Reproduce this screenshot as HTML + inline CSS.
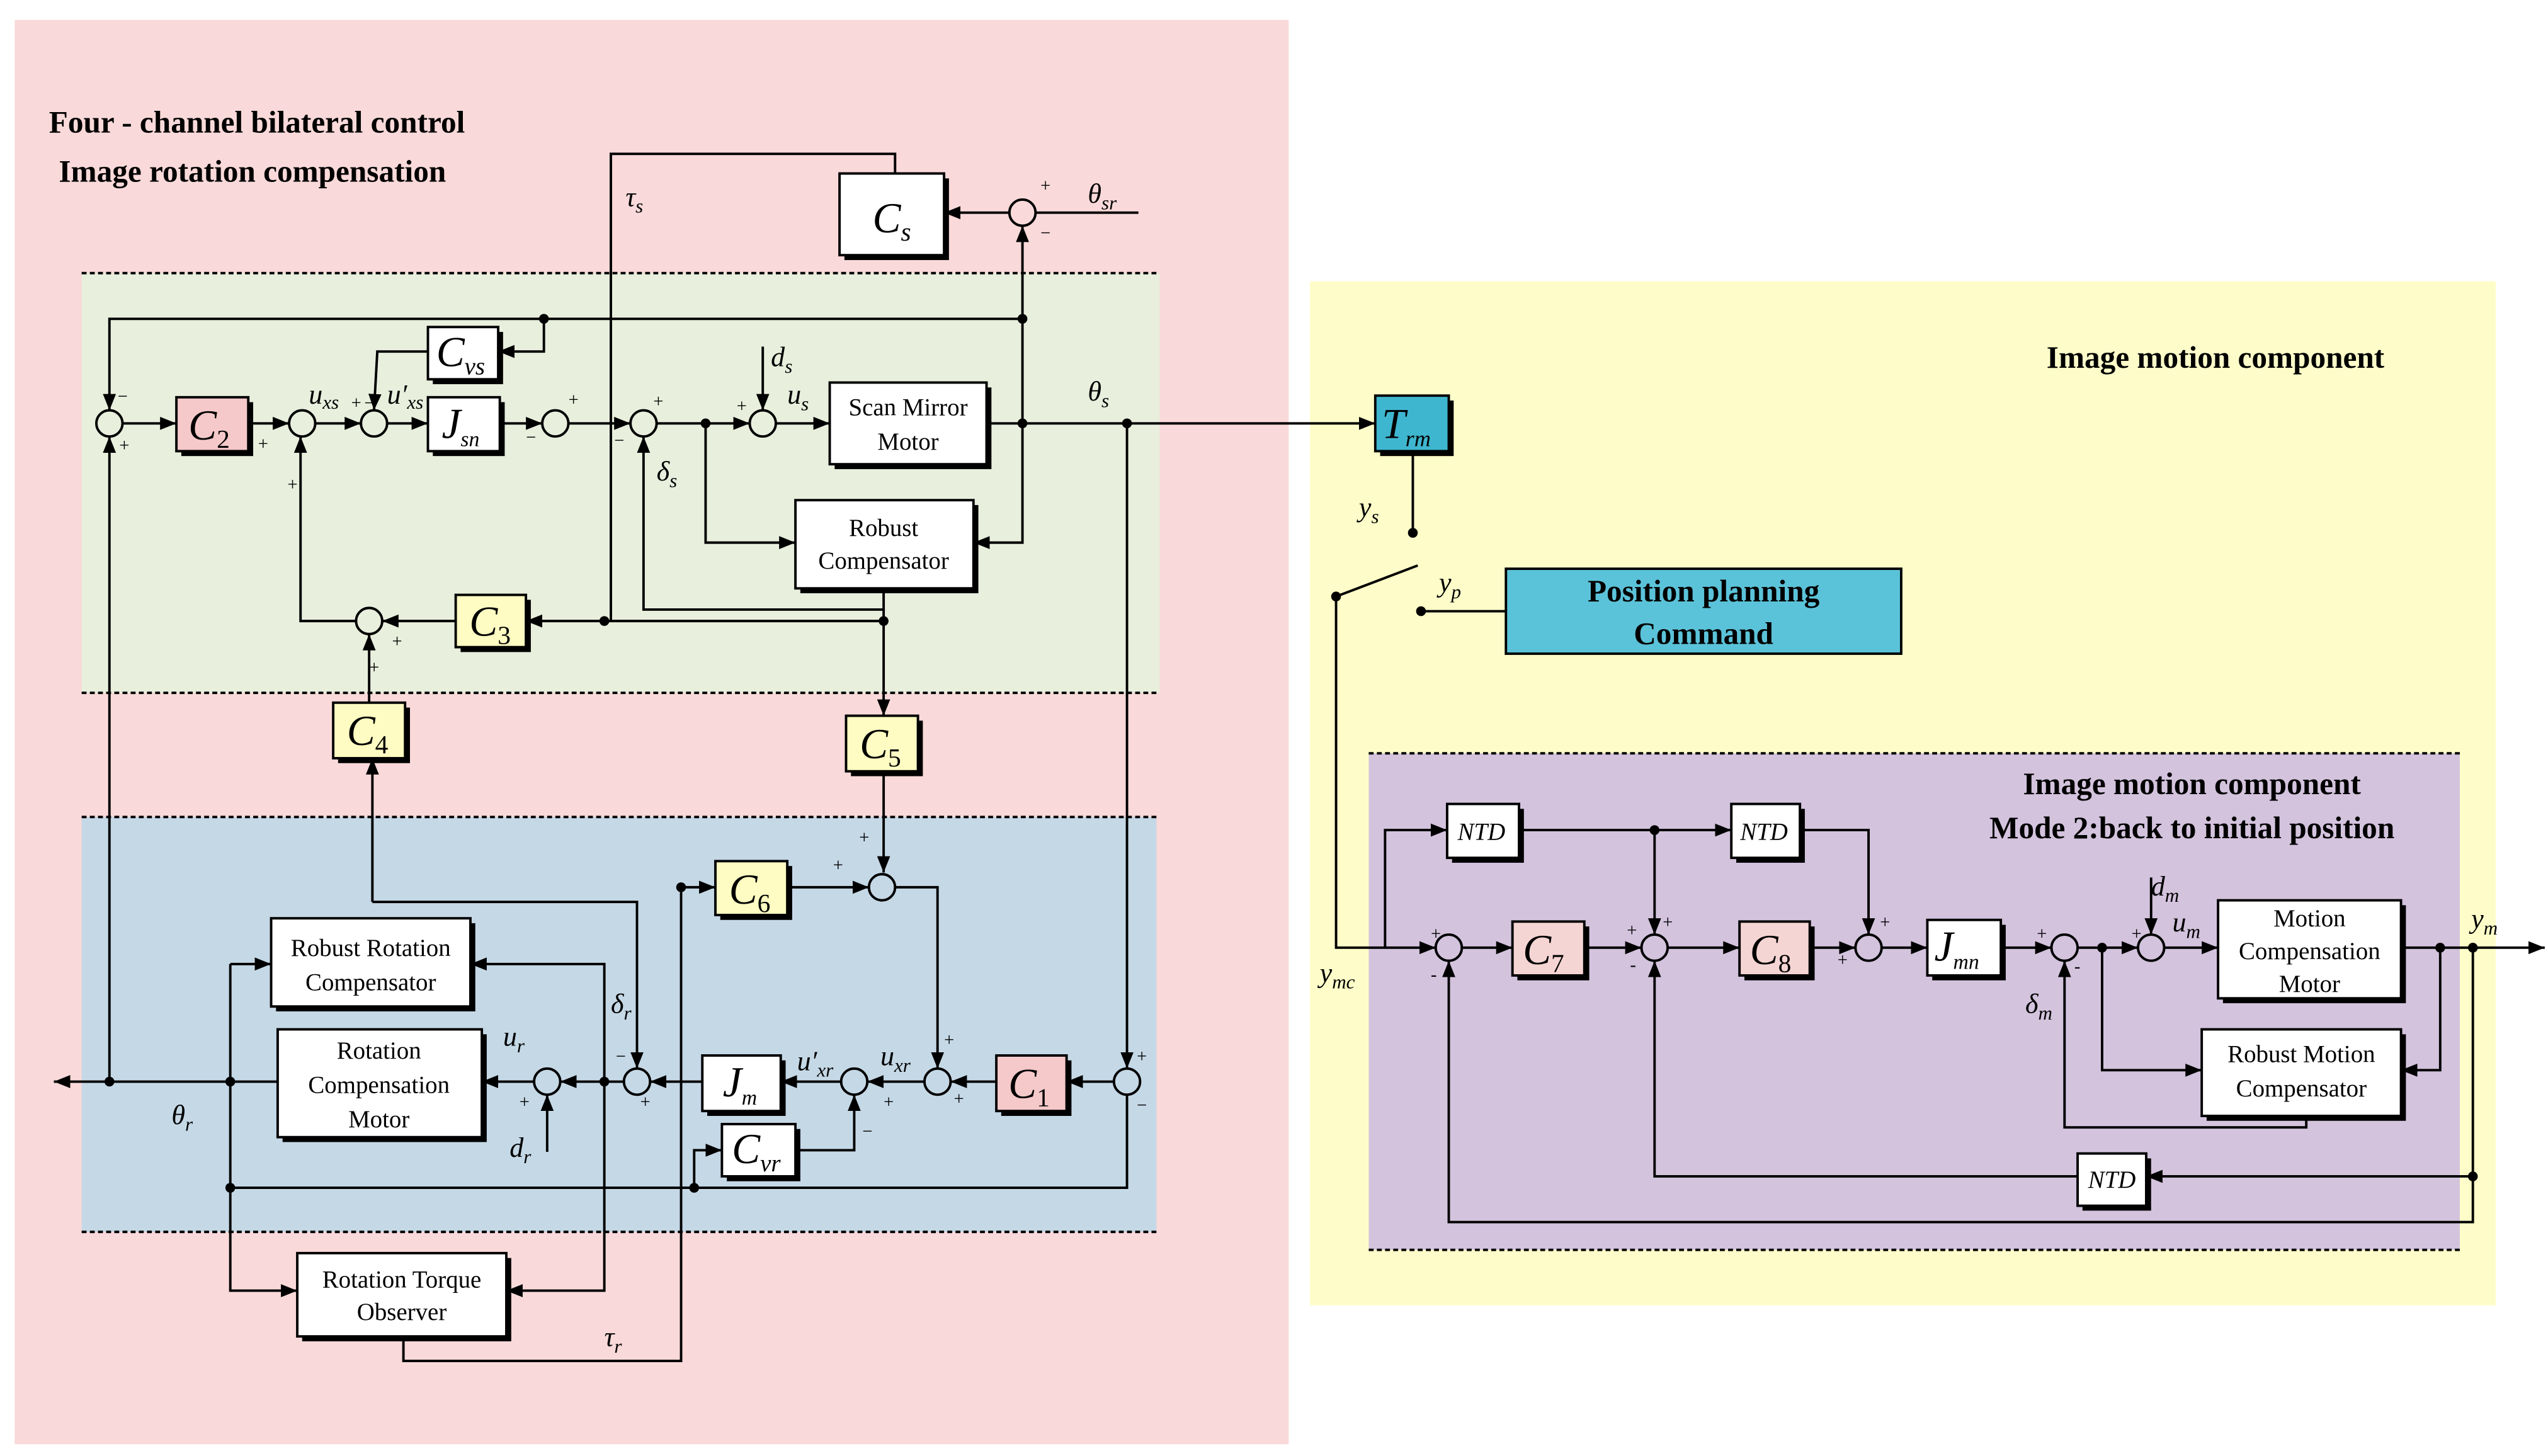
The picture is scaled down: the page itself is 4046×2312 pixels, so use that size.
<!DOCTYPE html>
<html><head><meta charset="utf-8"><style>
html,body{margin:0;padding:0;background:#fff}
svg{display:block}
text{font-family:"Liberation Serif",serif;fill:#000}
.t{font-weight:bold;font-size:19px}
.b{font-size:15px;text-anchor:middle}
.c{font-style:italic;font-size:26px;text-anchor:middle}
.l{font-style:italic;font-size:17px}
.p{font-size:11px}
</style></head><body>
<svg width="4046" height="2312" viewBox="0 0 1560 891" xmlns="http://www.w3.org/2000/svg">
<defs>
<marker id="a" viewBox="0 0 10 10" refX="10" refY="5" markerWidth="10" markerHeight="10" markerUnits="userSpaceOnUse" orient="auto"><path d="M0,1 L10,5 L0,9 z" fill="#000"/></marker>
</defs>
<rect width="1560" height="891" fill="#fff"/>
<!-- panels -->
<rect x="9" y="12" width="780" height="872" fill="#f9d9d9"/>
<rect x="50" y="167" width="660" height="257" fill="#e8efdd"/>
<rect x="50" y="500" width="658" height="254" fill="#c5d8e6"/>
<rect x="802" y="172" width="726" height="627" fill="#fefdc9"/>
<rect x="838" y="461" width="668" height="304" fill="#d3c3dd"/>
<g stroke="#000" stroke-width="1.5" stroke-dasharray="3,2" fill="none">
<line x1="50" y1="167" x2="710" y2="167"/><line x1="50" y1="424" x2="710" y2="424"/>
<line x1="50" y1="500" x2="708" y2="500"/><line x1="50" y1="754" x2="708" y2="754"/>
<line x1="838" y1="461" x2="1506" y2="461"/><line x1="838" y1="765" x2="1506" y2="765"/>
</g>
<text class="t" x="30" y="81">Four - channel bilateral control</text>
<text class="t" x="36" y="111">Image rotation compensation</text>
<text class="t" x="1253" y="225">Image motion component</text>
<text class="t" x="1342" y="486" text-anchor="middle">Image motion component</text>
<text class="t" x="1342" y="513" text-anchor="middle">Mode 2:back to initial position</text>

<!-- wires -->
<g stroke="#000" stroke-width="1.5" fill="none">
<!-- top Cs loop -->
<polyline points="697,130 634,130"/>
<polyline points="618,130 578,130" marker-end="url(#a)"/>
<polyline points="548,106 548,94 374,94 374,380"/>
<polyline points="626,259 626,138" marker-end="url(#a)"/>
<polyline points="626,195 67,195 67,251" marker-end="url(#a)"/>
<polyline points="333,195 333,215 305,215" marker-end="url(#a)"/>
<polyline points="262,215 231,215 229,251" marker-end="url(#a)"/>
<!-- main row -->
<line x1="75" y1="259" x2="108" y2="259" marker-end="url(#a)"/>
<line x1="152" y1="259" x2="177" y2="259" marker-end="url(#a)"/>
<line x1="193" y1="259" x2="221" y2="259" marker-end="url(#a)"/>
<line x1="237" y1="259" x2="262" y2="259" marker-end="url(#a)"/>
<line x1="306" y1="259" x2="332" y2="259" marker-end="url(#a)"/>
<line x1="348" y1="259" x2="386" y2="259" marker-end="url(#a)"/>
<line x1="402" y1="259" x2="459" y2="259" marker-end="url(#a)"/>
<line x1="475" y1="259" x2="508" y2="259" marker-end="url(#a)"/>
<line x1="604" y1="259" x2="842" y2="259" marker-end="url(#a)"/>
<line x1="467" y1="212" x2="467" y2="251" marker-end="url(#a)"/>
<polyline points="432,259 432,332 487,332" marker-end="url(#a)"/>
<polyline points="626,259 626,332 596,332" marker-end="url(#a)"/>
<polyline points="541,360 541,373 394,373 394,267" marker-end="url(#a)"/>
<polyline points="541,373 541,438" marker-end="url(#a)"/>
<polyline points="541,380 322,380" marker-end="url(#a)"/>
<polyline points="279,380 234,380" marker-end="url(#a)"/>
<polyline points="218,380 184,380 184,267" marker-end="url(#a)"/>
<polyline points="226,430 226,388" marker-end="url(#a)"/>
<polyline points="228,552 228,464" marker-end="url(#a)"/>
<!-- C5/C6 -->
<polyline points="541,472 541,534" marker-end="url(#a)"/>
<polyline points="417,543 438,543" marker-end="url(#a)"/>
<polyline points="482,543 532,543" marker-end="url(#a)"/>
<polyline points="548,543 574,543 574,654" marker-end="url(#a)"/>
<!-- lower row -->
<polyline points="690,259 690,654" marker-end="url(#a)"/>
<line x1="682" y1="662" x2="653" y2="662" marker-end="url(#a)"/>
<line x1="610" y1="662" x2="582" y2="662" marker-end="url(#a)"/>
<line x1="566" y1="662" x2="531" y2="662" marker-end="url(#a)"/>
<line x1="515" y1="662" x2="478" y2="662" marker-end="url(#a)"/>
<line x1="430" y1="662" x2="398" y2="662" marker-end="url(#a)"/>
<line x1="382" y1="662" x2="343" y2="662" marker-end="url(#a)"/>
<line x1="327" y1="662" x2="295" y2="662" marker-end="url(#a)"/>
<line x1="170" y1="662" x2="33" y2="662" marker-end="url(#a)"/>
<polyline points="67,662 67,267" marker-end="url(#a)"/>
<polyline points="690,670 690,727 141,727"/>
<polyline points="487,704 523,704 523,670" marker-end="url(#a)"/>
<polyline points="425,727 425,704 442,704" marker-end="url(#a)"/>
<line x1="335" y1="705" x2="335" y2="670" marker-end="url(#a)"/>
<polyline points="228,552 390,552 390,654" marker-end="url(#a)"/>
<polyline points="141,590 166,590" marker-end="url(#a)"/>
<polyline points="370,662 370,590 288,590" marker-end="url(#a)"/>
<polyline points="141,590 141,790 182,790" marker-end="url(#a)"/>
<polyline points="370,662 370,790 310,790" marker-end="url(#a)"/>
<polyline points="247,818 247,833 417,833 417,543"/>
<!-- right side -->
<polyline points="865,276 865,326"/>
<line x1="818" y1="365" x2="868" y2="346"/>
<line x1="870" y1="374" x2="922" y2="374"/>
<polyline points="818,365 818,580 879,580" marker-end="url(#a)"/>
<polyline points="848,580 848,508 886,508" marker-end="url(#a)"/>
<polyline points="930,508 1060,508" marker-end="url(#a)"/>
<polyline points="1013,508 1013,572" marker-end="url(#a)"/>
<polyline points="1102,508 1144,508 1144,572" marker-end="url(#a)"/>
<line x1="895" y1="580" x2="926" y2="580" marker-end="url(#a)"/>
<line x1="970" y1="580" x2="1005" y2="580" marker-end="url(#a)"/>
<line x1="1021" y1="580" x2="1065" y2="580" marker-end="url(#a)"/>
<line x1="1108" y1="580" x2="1136" y2="580" marker-end="url(#a)"/>
<line x1="1152" y1="580" x2="1180" y2="580" marker-end="url(#a)"/>
<line x1="1225" y1="580" x2="1256" y2="580" marker-end="url(#a)"/>
<line x1="1272" y1="580" x2="1309" y2="580" marker-end="url(#a)"/>
<line x1="1325" y1="580" x2="1358" y2="580" marker-end="url(#a)"/>
<line x1="1470" y1="580" x2="1558" y2="580" marker-end="url(#a)"/>
<line x1="1317" y1="537" x2="1317" y2="572" marker-end="url(#a)"/>
<polyline points="1287,580 1287,655 1348,655" marker-end="url(#a)"/>
<polyline points="1494,580 1494,655 1470,655" marker-end="url(#a)"/>
<polyline points="1412,683 1412,690 1264,690 1264,588" marker-end="url(#a)"/>
<polyline points="1514,580 1514,720 1314,720" marker-end="url(#a)"/>
<polyline points="1272,720 1013,720 1013,588" marker-end="url(#a)"/>
<polyline points="1514,720 1514,748 887,748 887,588" marker-end="url(#a)"/>
</g>
<!-- dots -->
<g fill="#000">
<circle cx="626" cy="195" r="3"/><circle cx="333" cy="195" r="3"/><circle cx="432" cy="259" r="3"/>
<circle cx="626" cy="259" r="3"/><circle cx="690" cy="259" r="3"/><circle cx="541" cy="380" r="3"/>
<circle cx="370" cy="380" r="3"/><circle cx="417" cy="543" r="3"/><circle cx="67" cy="662" r="3"/>
<circle cx="141" cy="662" r="3"/><circle cx="370" cy="662" r="3"/><circle cx="425" cy="727" r="3"/>
<circle cx="141" cy="727" r="3"/><circle cx="865" cy="326" r="3"/><circle cx="818" cy="365" r="3"/>
<circle cx="870" cy="374" r="3"/><circle cx="1013" cy="508" r="3"/><circle cx="1287" cy="580" r="3"/>
<circle cx="1494" cy="580" r="3"/><circle cx="1514" cy="580" r="3"/><circle cx="1514" cy="720" r="3"/>
</g>
<!-- sums -->
<g fill="none" stroke="#000" stroke-width="1.5">
<circle cx="626" cy="130" r="8"/><circle cx="67" cy="259" r="8"/><circle cx="185" cy="259" r="8"/>
<circle cx="229" cy="259" r="8"/><circle cx="340" cy="259" r="8"/><circle cx="394" cy="259" r="8"/>
<circle cx="467" cy="259" r="8"/><circle cx="226" cy="380" r="8"/><circle cx="540" cy="543" r="8"/>
<circle cx="690" cy="662" r="8"/><circle cx="574" cy="662" r="8"/><circle cx="523" cy="662" r="8"/>
<circle cx="390" cy="662" r="8"/><circle cx="335" cy="662" r="8"/>
<circle cx="887" cy="580" r="8"/><circle cx="1013" cy="580" r="8"/><circle cx="1144" cy="580" r="8"/>
<circle cx="1264" cy="580" r="8"/><circle cx="1317" cy="580" r="8"/>
</g>
<!-- boxes: shadow then box -->
<g>
<g fill="#000">
<rect x="517" y="109" width="64" height="50"/><rect x="111" y="246" width="44" height="33"/>
<rect x="265" y="203" width="43" height="32"/><rect x="265" y="246" width="44" height="33"/>
<rect x="511" y="237" width="96" height="50"/><rect x="490" y="309" width="109" height="54"/>
<rect x="282" y="367" width="43" height="32"/><rect x="207" y="433" width="44" height="34"/>
<rect x="521" y="441" width="44" height="34"/><rect x="441" y="530" width="44" height="33"/>
<rect x="169" y="565" width="122" height="54"/><rect x="173" y="633" width="125" height="66"/>
<rect x="433" y="649" width="48" height="34"/><rect x="613" y="649" width="43" height="34"/>
<rect x="445" y="691" width="45" height="32"/><rect x="185" y="770" width="128" height="51"/>
<rect x="845" y="245" width="45" height="34"/>
<rect x="889" y="495" width="44" height="33"/><rect x="1063" y="495" width="42" height="33"/>
<rect x="929" y="567" width="44" height="33"/><rect x="1068" y="567" width="43" height="33"/>
<rect x="1183" y="566" width="45" height="34"/><rect x="1361" y="554" width="112" height="60"/>
<rect x="1351" y="633" width="122" height="53"/><rect x="1275" y="709" width="42" height="32"/>
</g>
<g stroke="#000" stroke-width="1.5">
<rect x="514" y="106" width="64" height="50" fill="#fff"/>
<rect x="108" y="243" width="44" height="33" fill="#f5c9c9"/>
<rect x="262" y="200" width="43" height="32" fill="#fff"/>
<rect x="262" y="243" width="44" height="33" fill="#fff"/>
<rect x="508" y="234" width="96" height="50" fill="#fff"/>
<rect x="487" y="306" width="109" height="54" fill="#fff"/>
<rect x="279" y="364" width="43" height="32" fill="#fefcc2"/>
<rect x="204" y="430" width="44" height="34" fill="#fefcc2"/>
<rect x="518" y="438" width="44" height="34" fill="#fefcc2"/>
<rect x="438" y="527" width="44" height="33" fill="#fefcc2"/>
<rect x="166" y="562" width="122" height="54" fill="#fff"/>
<rect x="170" y="630" width="125" height="66" fill="#fff"/>
<rect x="430" y="646" width="48" height="34" fill="#fff"/>
<rect x="610" y="646" width="43" height="34" fill="#f5c9c9"/>
<rect x="442" y="688" width="45" height="32" fill="#fff"/>
<rect x="182" y="767" width="128" height="51" fill="#fff"/>
<rect x="842" y="242" width="45" height="34" fill="#3fb6cf"/>
<rect x="922" y="348" width="242" height="52" fill="#5bc3d9"/>
<rect x="886" y="492" width="44" height="33" fill="#fff"/>
<rect x="1060" y="492" width="42" height="33" fill="#fff"/>
<rect x="926" y="564" width="44" height="33" fill="#f5d5d3"/>
<rect x="1065" y="564" width="43" height="33" fill="#f5d5d3"/>
<rect x="1180" y="563" width="45" height="34" fill="#fff"/>
<rect x="1358" y="551" width="112" height="60" fill="#fff"/>
<rect x="1348" y="630" width="122" height="53" fill="#fff"/>
<rect x="1272" y="706" width="42" height="32" fill="#fff"/>
</g>
</g>
<!-- box labels -->
<text class="c" x="546" y="142">C<tspan font-size="16" dy="5">s</tspan></text>
<text class="c" x="128" y="269">C<tspan font-size="16" font-style="normal" dy="5">2</tspan></text>
<text class="c" x="282" y="224">C<tspan font-size="15" dy="5">vs</tspan></text>
<text class="c" x="282" y="268">J<tspan font-size="13" dy="5">sn</tspan></text>
<text class="b" x="556" y="254">Scan Mirror</text><text class="b" x="556" y="275">Motor</text>
<text class="b" x="541" y="328">Robust</text><text class="b" x="541" y="348">Compensator</text>
<text class="c" x="300" y="389">C<tspan font-size="16" font-style="normal" dy="5">3</tspan></text>
<text class="c" x="225" y="456">C<tspan font-size="16" font-style="normal" dy="5">4</tspan></text>
<text class="c" x="539" y="464">C<tspan font-size="16" font-style="normal" dy="5">5</tspan></text>
<text class="c" x="459" y="553">C<tspan font-size="16" font-style="normal" dy="5">6</tspan></text>
<text class="b" x="227" y="585">Robust Rotation</text><text class="b" x="227" y="606">Compensator</text>
<text class="b" x="232" y="648">Rotation</text><text class="b" x="232" y="669">Compensation</text><text class="b" x="232" y="690">Motor</text>
<text class="c" x="453" y="671">J<tspan font-size="13" dy="5">m</tspan></text>
<text class="c" x="630" y="672">C<tspan font-size="16" font-style="normal" dy="5">1</tspan></text>
<text class="c" x="463" y="712">C<tspan font-size="15" dy="5">vr</tspan></text>
<text class="b" x="246" y="788">Rotation Torque</text><text class="b" x="246" y="808">Observer</text>
<text class="c" x="861" y="268">T<tspan font-size="14" dy="5">rm</tspan></text>
<text class="t" x="1043" y="368" text-anchor="middle">Position planning</text>
<text class="t" x="1043" y="394" text-anchor="middle">Command</text>
<text x="907" y="514" font-size="15" font-style="italic" text-anchor="middle">NTD</text>
<text x="1080" y="514" font-size="15" font-style="italic" text-anchor="middle">NTD</text>
<text x="1293" y="727" font-size="15" font-style="italic" text-anchor="middle">NTD</text>
<text class="c" x="945" y="590">C<tspan font-size="16" font-style="normal" dy="5">7</tspan></text>
<text class="c" x="1084" y="590">C<tspan font-size="16" font-style="normal" dy="5">8</tspan></text>
<text class="c" x="1198" y="588">J<tspan font-size="13" dy="5">mn</tspan></text>
<text class="b" x="1414" y="567">Motion</text><text class="b" x="1414" y="587">Compensation</text><text class="b" x="1414" y="607">Motor</text>
<text class="b" x="1409" y="650">Robust Motion</text><text class="b" x="1409" y="671">Compensator</text>
<!-- signal labels -->
<text class="l" x="666" y="124">θ<tspan font-size="12" dy="4">sr</tspan></text>
<text class="l" x="383" y="126">τ<tspan font-size="12" dy="4">s</tspan></text>
<text class="l" x="189" y="247">u<tspan font-size="12" dy="3">xs</tspan></text>
<text class="l" x="237" y="247">u′<tspan font-size="12" dy="3">xs</tspan></text>
<text class="l" x="472" y="224">d<tspan font-size="12" dy="4">s</tspan></text>
<text class="l" x="482" y="247">u<tspan font-size="12" dy="4">s</tspan></text>
<text class="l" x="402" y="294">δ<tspan font-size="12" dy="4">s</tspan></text>
<text class="l" x="666" y="245">θ<tspan font-size="12" dy="4">s</tspan></text>
<text class="l" x="832" y="316">y<tspan font-size="12" dy="4">s</tspan></text>
<text class="l" x="881" y="362">y<tspan font-size="12" dy="4">p</tspan></text>
<text class="l" x="808" y="601">y<tspan font-size="12" dy="4">mc</tspan></text>
<text class="l" x="1317" y="548">d<tspan font-size="12" dy="4">m</tspan></text>
<text class="l" x="1330" y="570">u<tspan font-size="12" dy="4">m</tspan></text>
<text class="l" x="1240" y="620">δ<tspan font-size="12" dy="4">m</tspan></text>
<text class="l" x="1513" y="568" font-style="normal">y<tspan font-size="12" font-style="italic" dy="4">m</tspan></text>
<text class="l" x="374" y="620">δ<tspan font-size="12" dy="4">r</tspan></text>
<text class="l" x="308" y="640">u<tspan font-size="12" dy="4">r</tspan></text>
<text class="l" x="312" y="708">d<tspan font-size="12" dy="4">r</tspan></text>
<text class="l" x="488" y="655">u′<tspan font-size="12" dy="4">xr</tspan></text>
<text class="l" x="539" y="652">u<tspan font-size="12" dy="4">xr</tspan></text>
<text class="l" x="105" y="688">θ<tspan font-size="12" dy="4">r</tspan></text>
<text class="l" x="370" y="824">τ<tspan font-size="12" dy="4">r</tspan></text>
<!-- signs -->
<g class="p">
<text x="637" y="117">+</text><text x="637" y="146">−</text>
<text x="72" y="246">−</text><text x="73" y="276">+</text>
<text x="158" y="275">+</text><text x="215" y="250">+</text><text x="223" y="250">−</text>
<text x="176" y="300">+</text><text x="322" y="271">−</text><text x="348" y="248">+</text>
<text x="400" y="249">+</text><text x="376" y="273">−</text><text x="451" y="252">+</text>
<text x="240" y="396">+</text><text x="226" y="412">+</text>
<text x="526" y="516">+</text><text x="510" y="533">+</text>
<text x="578" y="640">+</text><text x="584" y="676">+</text>
<text x="696" y="650">+</text><text x="696" y="680">−</text>
<text x="528" y="696">−</text><text x="541" y="678">+</text>
<text x="377" y="650">−</text><text x="392" y="678">+</text>
<text x="318" y="678">+</text>
<text x="876" y="575">+</text><text x="876" y="600">-</text>
<text x="996" y="573">+</text><text x="1018" y="568">+</text><text x="998" y="594">-</text>
<text x="1151" y="568">+</text><text x="1125" y="591">+</text>
<text x="1247" y="575">+</text><text x="1270" y="595">-</text><text x="1305" y="575">+</text>
</g>
</svg>
</body></html>
